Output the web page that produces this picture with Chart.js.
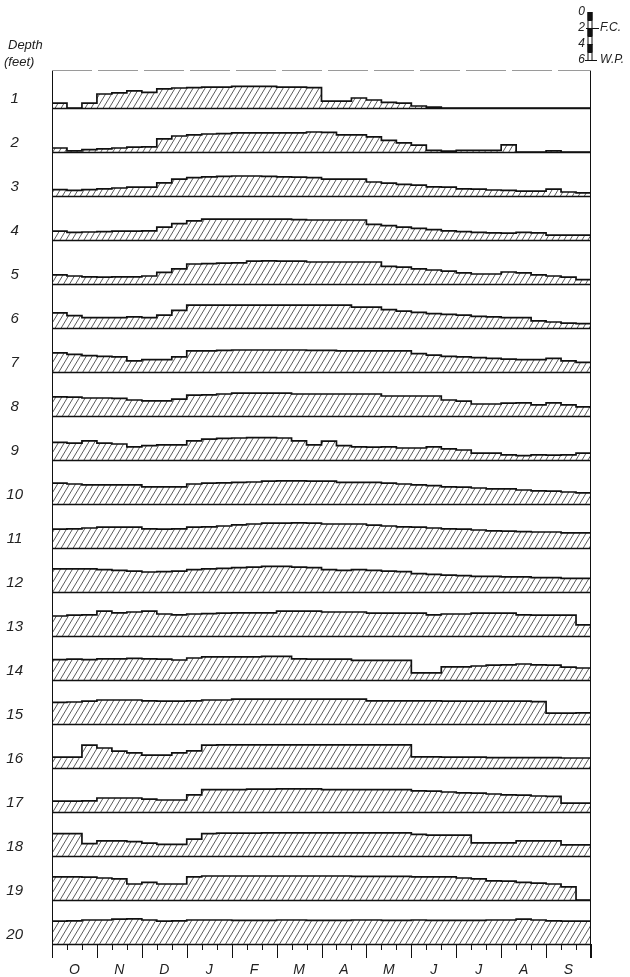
<!DOCTYPE html>
<html><head><meta charset="utf-8">
<script src="https://cdn.jsdelivr.net/npm/chart.js@4/dist/chart.umd.min.js"></script>
<style>html,body{margin:0;padding:0;background:#fff;}canvas{display:block;}</style>
</head><body>
<canvas id="c" width="630" height="977"></canvas>
<script>
// ---- data (soil-moisture profiles, 36 ten-day periods Oct..Sep) ----
const months = ['O','N','D','J','F','M','A','M','J','J','A','S'];
const depths = [1,2,3,4,5,6,7,8,9,10,11,12,13,14,15,16,17,18,19,20];
const scaleMarks = [0,2,4,6];
const scaleNotes = ['', 'F.C.', '', 'W.P.'];

const depth1  = [0.6,0,0.6,1.75,1.9,2.15,1.95,2.4,2.5,2.55, 2.6,2.6,2.7,2.7,2.7,2.6,2.6,2.55,0.85,0.85, 1.25,1.0,0.7,0.6,0.25,0.12,0,0,0,0, 0,0,0,0,0,0];
const depth2  = [0.5,0.15,0.3,0.4,0.5,0.6,0.65,1.65,2.0,2.15, 2.25,2.3,2.4,2.4,2.4,2.4,2.4,2.5,2.45,2.15, 2.15,1.9,1.45,1.15,0.85,0.2,0.1,0.2,0.2,0.2, 0.9,0,0,0.15,0,0];
const depth3  = [0.8,0.7,0.8,0.9,1.0,1.1,1.1,1.65,2.1,2.3, 2.4,2.45,2.5,2.5,2.45,2.4,2.35,2.3,2.1,2.1, 2.1,1.75,1.6,1.45,1.35,1.15,1.1,0.9,0.85,0.75, 0.7,0.6,0.6,0.85,0.5,0.4];
const depth4  = [1.1,0.95,1.0,1.05,1.1,1.1,1.15,1.6,2.05,2.4, 2.6,2.6,2.6,2.6,2.6,2.6,2.55,2.5,2.5,2.5, 2.5,1.95,1.8,1.6,1.45,1.3,1.15,1.05,0.95,0.9, 0.85,0.95,0.9,0.6,0.6,0.6];
const depth5  = [1.15,1.0,0.9,0.85,0.9,0.9,1.0,1.45,1.9,2.5, 2.55,2.6,2.65,2.85,2.9,2.85,2.85,2.75,2.75,2.75, 2.75,2.75,2.2,2.1,1.9,1.75,1.6,1.4,1.25,1.25, 1.5,1.4,1.15,1.0,0.85,0.55];
const depth6  = [1.9,1.55,1.3,1.3,1.3,1.4,1.3,1.6,2.2,2.85, 2.85,2.85,2.85,2.85,2.85,2.85,2.85,2.85,2.85,2.85, 2.6,2.6,2.3,2.1,1.95,1.8,1.7,1.6,1.45,1.4, 1.3,1.3,0.9,0.75,0.6,0.55];
const depth7  = [2.4,2.2,2.05,1.95,1.9,1.4,1.55,1.55,1.9,2.65, 2.65,2.7,2.75,2.75,2.75,2.75,2.75,2.7,2.7,2.65, 2.65,2.65,2.65,2.65,2.3,2.1,1.95,1.9,1.8,1.7, 1.6,1.55,1.55,1.7,1.4,1.2];
const depth8  = [2.4,2.35,2.25,2.25,2.2,2.0,1.9,1.9,2.1,2.6, 2.65,2.75,2.85,2.85,2.85,2.85,2.75,2.75,2.75,2.75, 2.75,2.75,2.5,2.5,2.5,2.5,2.0,1.85,1.5,1.5, 1.6,1.65,1.4,1.65,1.4,1.15];
const depth9  = [2.2,2.1,2.4,2.1,2.0,1.65,1.8,1.9,1.9,2.4, 2.6,2.7,2.75,2.8,2.8,2.75,2.4,1.9,2.35,1.8, 1.65,1.6,1.65,1.5,1.5,1.65,1.4,1.25,0.85,0.85, 0.65,0.55,0.65,0.6,0.65,0.85];
const depth10 = [2.6,2.5,2.4,2.4,2.4,2.4,2.15,2.15,2.15,2.5, 2.6,2.65,2.7,2.75,2.85,2.9,2.9,2.85,2.85,2.7, 2.7,2.7,2.6,2.5,2.4,2.3,2.15,2.1,2.0,1.9, 1.9,1.75,1.65,1.6,1.5,1.4];
const depth11 = [2.35,2.4,2.5,2.6,2.6,2.6,2.4,2.35,2.4,2.6, 2.65,2.75,2.9,3.0,3.1,3.1,3.15,3.1,3.0,3.0, 3.0,2.85,2.75,2.65,2.6,2.5,2.4,2.35,2.25,2.15, 2.1,2.05,2.0,2.0,1.9,1.9];
const depth12 = [2.9,2.9,2.9,2.8,2.7,2.6,2.5,2.55,2.6,2.8, 2.9,2.95,3.05,3.1,3.2,3.2,3.1,3.05,2.8,2.7, 2.8,2.7,2.6,2.55,2.3,2.2,2.1,2.05,1.95,1.95, 1.9,1.9,1.8,1.8,1.7,1.7];
const depth13 = [2.5,2.6,2.65,3.1,2.9,3.0,3.1,2.75,2.65,2.75, 2.8,2.85,2.9,2.9,2.9,3.1,3.1,3.1,3.0,3.0, 3.0,2.85,2.85,2.85,2.85,2.65,2.75,2.75,2.85,2.85, 2.85,2.65,2.6,2.6,2.6,1.4];
const depth14 = [2.55,2.6,2.55,2.65,2.65,2.7,2.65,2.6,2.5,2.75, 2.9,2.9,2.9,2.9,2.95,2.95,2.65,2.6,2.6,2.6, 2.45,2.45,2.45,2.45,0.9,0.9,1.65,1.65,1.75,1.85, 1.9,2.0,1.9,1.85,1.6,1.5];
const depth15 = [2.7,2.75,2.85,3.0,3.0,3.0,2.9,2.85,2.85,2.9, 3.0,3.0,3.1,3.1,3.1,3.1,3.1,3.1,3.1,3.1, 3.1,2.9,2.9,2.9,2.9,2.9,2.85,2.85,2.85,2.85, 2.85,2.85,2.8,1.35,1.35,1.4];
const depth16 = [1.35,1.35,2.85,2.5,2.1,1.9,1.6,1.6,1.9,2.15, 2.85,2.9,2.9,2.9,2.9,2.9,2.9,2.9,2.9,2.9, 2.9,2.9,2.9,2.9,1.4,1.4,1.35,1.35,1.35,1.3, 1.3,1.3,1.3,1.3,1.25,1.25];
const depth17 = [1.35,1.35,1.4,1.75,1.75,1.75,1.6,1.5,1.5,2.15, 2.8,2.8,2.8,2.85,2.85,2.9,2.9,2.9,2.8,2.8, 2.8,2.8,2.8,2.8,2.65,2.6,2.5,2.4,2.35,2.25, 2.15,2.1,2.0,1.95,1.1,1.1];
const depth18 = [2.8,2.8,1.55,1.9,1.9,1.8,1.6,1.45,1.45,2.1, 2.8,2.85,2.85,2.85,2.9,2.9,2.9,2.9,2.9,2.9, 2.9,2.9,2.9,2.9,2.7,2.6,2.6,2.6,1.65,1.65, 1.65,1.9,1.9,1.9,1.4,1.4];
const depth19 = [2.9,2.9,2.85,2.75,2.65,2.0,2.2,2.0,2.0,2.9, 3.0,3.0,3.0,3.0,3.0,3.0,3.0,3.0,3.0,3.0, 2.95,2.95,2.95,2.95,2.9,2.9,2.9,2.75,2.65,2.4, 2.35,2.2,2.1,2.0,1.65,0];
const depth20 = [2.85,2.9,3.0,3.0,3.1,3.15,3.0,2.85,2.9,3.0, 3.0,3.0,2.95,2.95,2.95,3.0,3.0,2.95,2.95,2.95, 3.0,3.0,2.95,2.95,3.0,2.95,2.95,2.95,2.95,3.0, 3.0,3.1,3.0,2.9,2.85,2.85];

const profiles = [depth1,depth2,depth3,depth4,depth5,depth6,depth7,depth8,depth9,depth10,
                  depth11,depth12,depth13,depth14,depth15,depth16,depth17,depth18,depth19,depth20];

// ---- layout constants ----
const ROW = 5.5;        // vertical spacing of the strips, in scale units
const LIFT = 1.2;       // label lift above a strip's baseline
const PERIODS = 36;
const FONT = '"Liberation Sans", Arial, sans-serif';

const canvas = document.getElementById('c');
const ctx = canvas.getContext('2d');

function makeHatch() {
  const w = 6, h = 10;
  const t = document.createElement('canvas');
  t.width = w; t.height = h;
  const g = t.getContext('2d');
  g.strokeStyle = '#4a4a4a';
  g.lineWidth = 0.9;
  g.beginPath();
  for (const dx of [-w, 0, w]) { g.moveTo(dx, h); g.lineTo(dx + w, 0); }
  g.stroke();
  return ctx.createPattern(t, 'repeat');
}
const hatch = makeHatch();

const baseOf = r => (depths.length - 1 - r) * ROW;

const datasets = profiles.map((vals, r) => {
  const base = baseOf(r);
  const pts = vals.map((v, i) => ({x: i, y: base + v}));
  pts.push({x: vals.length, y: base + vals[vals.length - 1]});
  return {
    label: depths[r] + ' ft',
    data: pts,
    stepped: 'before',
    borderColor: '#111',
    borderWidth: 1.7,
    pointRadius: 0,
    backgroundColor: hatch,
    fill: {value: base}
  };
});

const framePlugin = {
  id: 'frame',
  afterDatasetsDraw(chart) {
    const {ctx, chartArea: a, scales: {x, y}} = chart;
    ctx.save();
    ctx.strokeStyle = '#111';
    ctx.lineWidth = 1.4;
    depths.forEach((d, r) => {
      const py = Math.round(y.getPixelForValue(baseOf(r))) + 0.5;
      ctx.beginPath(); ctx.moveTo(a.left, py); ctx.lineTo(a.right, py); ctx.stroke();
    });
    ctx.lineWidth = 1;
    for (let k = 0; k <= PERIODS; k++) {
      const px = Math.round(x.getPixelForValue(k)) + 0.5;
      const len = k % 3 === 0 ? 14 : 6;
      ctx.beginPath(); ctx.moveTo(px, a.bottom); ctx.lineTo(px, a.bottom + len); ctx.stroke();
    }
    const l = Math.round(a.left) + 0.5, rr = Math.round(a.right) - 0.5;
    ctx.beginPath();
    ctx.moveTo(l, a.top); ctx.lineTo(l, a.bottom + 14);
    ctx.moveTo(rr, a.top); ctx.lineTo(rr, a.bottom + 14);
    ctx.stroke();
    ctx.strokeStyle = '#9a9a9a';
    ctx.setLineDash([40, 6]);
    ctx.beginPath(); ctx.moveTo(a.left, Math.round(a.top) + 0.5); ctx.lineTo(a.right, Math.round(a.top) + 0.5); ctx.stroke();
    ctx.setLineDash([]);
    ctx.restore();
  },
  afterDraw(chart) {
    const {ctx, scales: {y}} = chart;
    ctx.save();
    ctx.fillStyle = '#222';
    ctx.font = 'italic 13px ' + FONT;
    ctx.textBaseline = 'middle';
    ctx.textAlign = 'left';
    ctx.fillText('Depth', 8, 45);
    ctx.fillText('(feet)', 4, 62);

    const unit = y.getPixelForValue(0) - y.getPixelForValue(1);
    const top = 12, cx = 590, w = 5;
    ctx.lineWidth = 1;
    ctx.strokeStyle = '#111';
    for (let s = 0; s < 6; s++) {
      const y0 = top + s * unit;
      ctx.fillStyle = s % 2 === 0 ? '#111' : '#fff';
      ctx.fillRect(cx - w / 2, y0, w, unit);
      ctx.strokeRect(cx - w / 2 + 0.5, y0 + 0.5, w - 1, unit);
    }
    const yFC = top + 2 * unit, yWP = top + 6 * unit;
    ctx.beginPath();
    ctx.moveTo(cx - 4, Math.round(yFC) + 0.5); ctx.lineTo(cx + 9, Math.round(yFC) + 0.5);
    ctx.moveTo(cx - 5, Math.round(yWP) + 0.5); ctx.lineTo(cx + 7, Math.round(yWP) + 0.5);
    ctx.stroke();
    ctx.fillStyle = '#222';
    ctx.font = 'italic 12px ' + FONT;
    scaleMarks.forEach((m, i) => {
      const py = top + m * unit;
      ctx.textAlign = 'right';
      ctx.fillText(String(m), cx - 5, py);
      if (scaleNotes[i]) { ctx.textAlign = 'left'; ctx.fillText(scaleNotes[i], cx + 10, py); }
    });
    ctx.restore();
  }
};

new Chart(canvas, {
  type: 'line',
  data: {datasets},
  options: {
    responsive: false,
    devicePixelRatio: 1,
    animation: false,
    layout: {padding: {top: 70, right: 39, left: 0, bottom: 0}},
    plugins: {legend: {display: false}, tooltip: {enabled: false}},
    scales: {
      x: {
        type: 'linear', min: 0, max: PERIODS,
        grid: {display: false}, border: {display: false},
        afterFit: s => { s.height = 33; },
        afterBuildTicks: s => { s.ticks = months.map((m, i) => ({value: 1.5 + 3 * i})); },
        ticks: {
          autoSkip: false, maxRotation: 0, padding: 10,
          color: '#222', font: {family: FONT, size: 14, style: 'italic'},
          callback: (v, i) => months[i]
        }
      },
      y: {
        type: 'linear', min: 0, max: 109.25,
        grid: {display: false}, border: {display: false},
        afterFit: s => { s.width = 52; },
        afterBuildTicks: s => { s.ticks = depths.map((d, r) => ({value: baseOf(r) + LIFT})); },
        ticks: {
          autoSkip: false, padding: 21, crossAlign: 'center',
          color: '#222', font: {family: FONT, size: 15, style: 'italic'},
          callback: (v, i) => String(depths[i])
        }
      }
    }
  },
  plugins: [framePlugin]
});
</script>
</body></html>
